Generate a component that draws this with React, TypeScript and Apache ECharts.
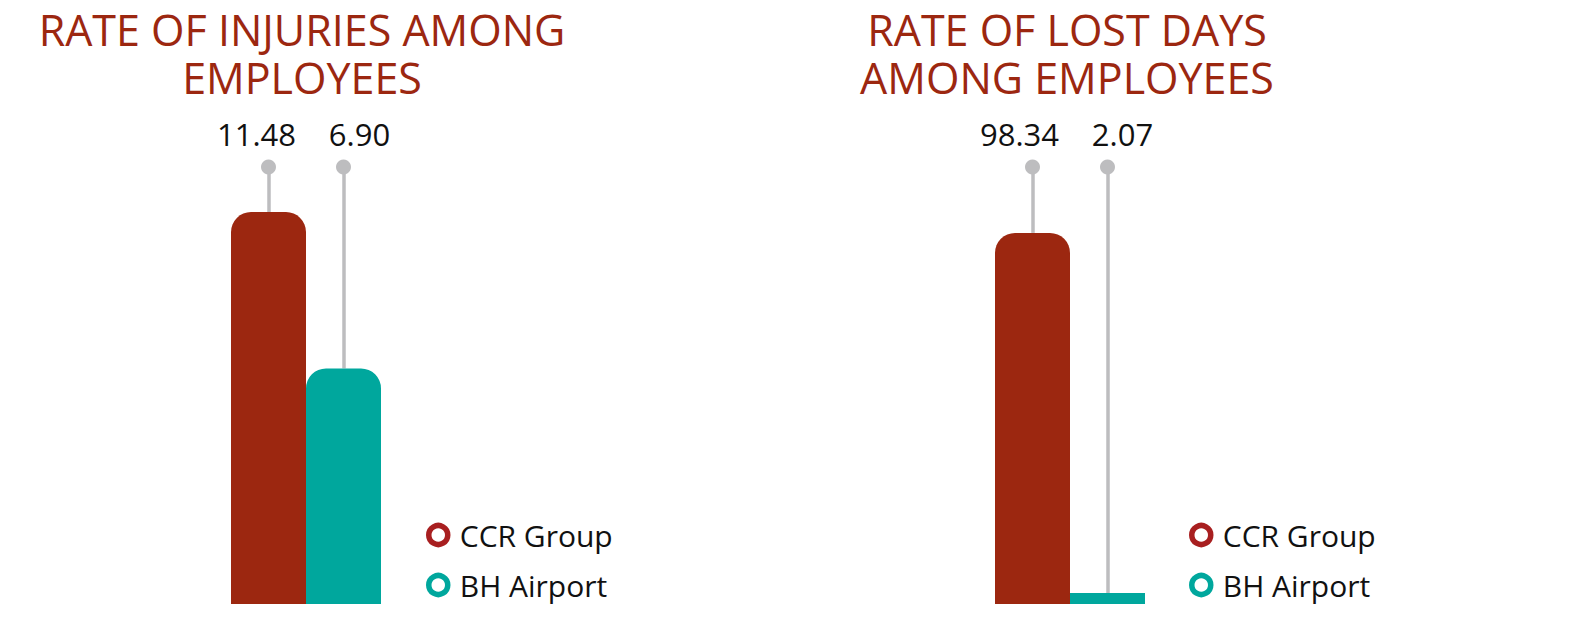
import React, { useEffect, useRef } from "react";
import * as echarts from "echarts";

const seriesNames = ["CCR Group", "BH Airport"];
const injuriesValues = [11.48, 6.9];
const lostDaysValues = [98.34, 2.07];
const titles = ["RATE OF INJURIES AMONG\nEMPLOYEES", "RATE OF LOST DAYS\nAMONG EMPLOYEES"];

const RED = "#9c2710";
const RING_RED = "#a81f20";
const TEAL = "#00a79d";
const GREY = "#bdbdbf";
const FONT = "Open Sans";

export default function App() {
  const ref = useRef<HTMLDivElement>(null);
  useEffect(() => {
    if (!ref.current) return;
    const chart = echarts.init(ref.current, null, { renderer: "svg" });

    const charts = [
      { values: injuriesValues, max: 12.8, gridLeft: 231, titleX: 302, legendLeft: 426, labelOffsets: [-12, 16] },
      { values: lostDaysValues, max: 115.8, gridLeft: 995, titleX: 1067, legendLeft: 1189, labelOffsets: [-13, 15] },
    ];
    const colors = [RED, TEAL];
    const ringColors = [RING_RED, TEAL];

    const series: any[] = [];
    charts.forEach((c, gi) => {
      seriesNames.forEach((name, si) => {
        const data = seriesNames.map((_, k) => (k === si ? c.values[si] : "-"));
        series.push({
          type: "bar",
          name,
          xAxisIndex: gi,
          yAxisIndex: gi,
          data,
          z: 3,
          barGap: "-100%",
          barCategoryGap: "0%",
          barMinHeight: 11,
          itemStyle: { color: colors[si], borderRadius: c.values[si] / c.max < 0.05 ? 0 : [20, 20, 0, 0] },
          markLine: {
            silent: true,
            z: 1,
            symbol: ["none", "none"],
            label: { show: false },
            lineStyle: { color: GREY, width: 3.5, type: "solid" },
            data: [[{ coord: [name, c.values[si]] }, { coord: [name, c.max] }]],
          },
          markPoint: {
            silent: true,
            data: [
              {
                coord: [name, c.max],
                value: c.values[si],
                symbol: "circle",
                symbolSize: 15,
                itemStyle: { color: GREY },
                label: {
                  show: true,
                  position: "top",
                  distance: 10,
                  offset: [c.labelOffsets[si], 0],
                  color: "#111",
                  fontSize: 31,
                  fontFamily: FONT,
                  formatter: (p: any) => Number(p.value).toFixed(2),
                },
              },
            ],
          },
        });
      });
    });

    chart.setOption({
      animation: false,
      title: charts.map((c, i) => ({
        text: titles[i],
        left: c.titleX,
        top: 5,
        padding: 0,
        textAlign: "center",
        textStyle: { color: RED, fontSize: 43, lineHeight: 48, fontWeight: "normal", fontFamily: FONT },
      })),
      legend: charts.map((c, i) => ({
        orient: "vertical",
        left: c.legendLeft,
        top: 520,
        padding: 0,
        itemWidth: 19,
        itemHeight: 19,
        itemGap: 20,
        icon: "circle",
        selectedMode: false,
        data: seriesNames.map((n, k) => ({
          name: n,
          itemStyle: { color: "#fff", borderColor: ringColors[k], borderWidth: 5.5 },
        })),
        textStyle: { color: "#111", fontSize: 30, lineHeight: 30, fontFamily: FONT, padding: [0, 0, 0, 7] },
      })),
      grid: charts.map((c) => ({ left: c.gridLeft, width: 150, top: 167, height: 437 })),
      xAxis: charts.map((_, i) => ({
        type: "category",
        gridIndex: i,
        data: seriesNames,
        show: false,
      })),
      yAxis: charts.map((c, i) => ({
        type: "value",
        gridIndex: i,
        min: 0,
        max: c.max,
        show: false,
        splitLine: { show: false },
      })),
      series,
    });
    return () => chart.dispose();
  }, []);
  return <div ref={ref} style={{ position: "absolute", left: 0, top: 0, width: 1569, height: 627 }} />;
}
